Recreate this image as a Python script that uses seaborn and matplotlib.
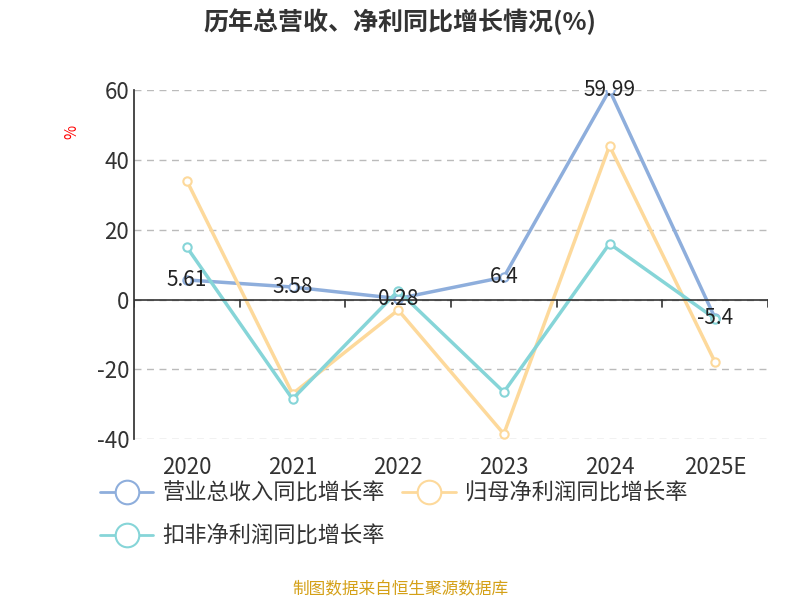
import matplotlib
matplotlib.use("Agg")
import matplotlib.pyplot as plt
import seaborn as sns
import pandas as pd
import numpy as np
from matplotlib.lines import Line2D

years = ["2020", "2021", "2022", "2023", "2024", "2025E"]
revenue = [5.61, 3.58, 0.28, 6.4, 59.99, -5.4]
netprofit = [34.0, -27.0, -3.0, -38.5, 44.0, -18.0]
deducted = [15.0, -28.5, 2.5, -26.5, 16.0, -5.5]
names = ["营业总收入同比增长率", "归母净利润同比增长率", "扣非净利润同比增长率"]
colors = ["#8eaedc", "#fdd99b", "#86d5d8"]

sns.set_theme(style="white")
plt.rcParams['font.family'] = ['Noto Sans CJK SC', 'DejaVu Sans']
plt.rcParams['axes.unicode_minus'] = False

fig = plt.figure(figsize=(8, 6), dpi=100)
ax = fig.add_axes([0.1675, 0.268, 0.7925, 0.582])
x = np.arange(len(years))
df = pd.DataFrame({"x": np.tile(x, 3), "v": revenue + netprofit + deducted,
                   "s": np.repeat(names, len(years))})
for n, c in zip(names, colors):
    d = df[df.s == n]
    sns.lineplot(data=d, x="x", y="v", ax=ax, color=c, lw=2.5, marker="o",
                 markersize=6, markerfacecolor="white", markeredgecolor=c,
                 markeredgewidth=1.5, legend=False)
for xi, v in zip(x, revenue):
    ax.text(xi, v, f"{v:g}", ha="center", va="center", fontsize=15, color="#222")

ax.set_xlim(-0.5, len(years) - 0.5)
ax.set_ylim(-40, 60)
ax.set_yticks([-40, -20, 0, 20, 40, 60])
ax.yaxis.grid(True, ls=(0, (5, 4)), color="#bbbbbb", lw=1)
for s in ["top", "right", "bottom"]:
    ax.spines[s].set_visible(False)
ax.spines["left"].set_color("#333")
ax.axhline(0, color="#333", lw=1.2)
for b in np.arange(-0.5, len(years), 1.0):
    ax.plot([b, b], [0, -2], color="#333", lw=1.2)
ax.set_xticks(x)
ax.set_xticklabels(years)
ax.tick_params(axis="both", labelsize=16, colors="#333", length=0)
ax.tick_params(axis="x", pad=12)
ax.set_xlabel(""); ax.set_ylabel("")
fig.text(0.09, 0.78, "%", color="red", fontsize=11, rotation=90, ha="center", va="center")
fig.text(0.5, 0.963, "历年总营收、净利同比增长情况(%)", ha="center", va="center",
         fontsize=18, fontweight="bold", color="#333")
handles = [Line2D([], [], color=c, lw=2, marker="o", markersize=17,
                  markerfacecolor="white", markeredgecolor=c, markeredgewidth=1.5)
           for c in colors]
fig.legend(handles[:2], names[:2], loc="center left", bbox_to_anchor=(0.1, 0.178),
           ncol=2, frameon=False, fontsize=16, handlelength=2.4, handletextpad=0.4,
           columnspacing=0.8, labelcolor="#333")
fig.legend(handles[2:], names[2:], loc="center left", bbox_to_anchor=(0.1, 0.107),
           frameon=False, fontsize=16, handlelength=2.4, handletextpad=0.4, labelcolor="#333")
fig.text(0.5, 0.017, "制图数据来自恒生聚源数据库", ha="center", va="center",
         fontsize=12, color="#d4a017")
fig.savefig("out.png", dpi=100)
